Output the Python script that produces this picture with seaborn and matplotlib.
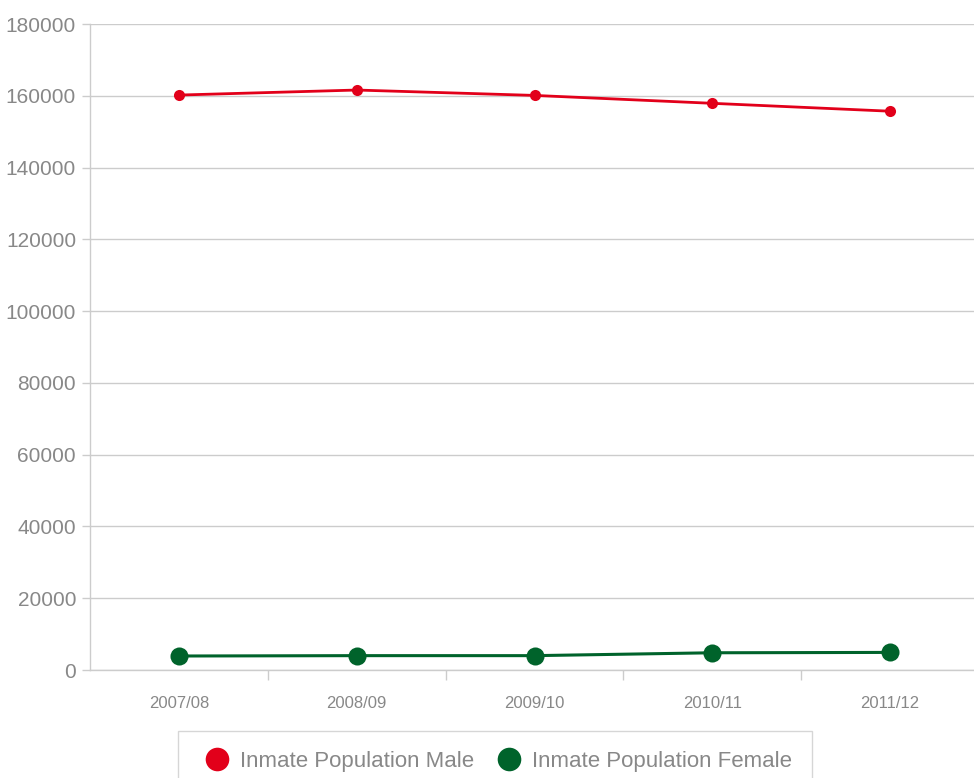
import matplotlib
matplotlib.use("Agg")
import matplotlib.pyplot as plt
from matplotlib.lines import Line2D
import pandas as pd
import seaborn as sns

years = ["2007/08", "2008/09", "2009/10", "2010/11", "2011/12"]
male = [160200, 161600, 160100, 157900, 155700]
female = [3900, 4000, 4000, 4800, 4900]
y_ticks = [0, 20000, 40000, 60000, 80000, 100000, 120000, 140000, 160000, 180000]

MALE_COLOR = "#e2001a"
FEMALE_COLOR = "#00632b"
GRID = "#cccccc"
TEXT = "#888888"

sns.set_theme(style="white")
plt.rcParams["font.family"] = ["Liberation Sans", "DejaVu Sans"]

df = pd.DataFrame({"year": years, "male": male, "female": female})

fig = plt.figure(figsize=(9.74, 7.78), dpi=100)
ax = fig.add_axes([90 / 974, 1 - 670 / 778, (979 - 90) / 974, (670 - 24) / 778])

sns.lineplot(data=df, x="year", y="male", ax=ax, color=MALE_COLOR, lw=2,
             marker="o", markersize=8, markeredgewidth=0, sort=False)
sns.lineplot(data=df, x="year", y="female", ax=ax, color=FEMALE_COLOR, lw=2.2,
             marker="o", markersize=13, markeredgewidth=0, sort=False)

ax.set_xlim(-0.5, len(years) - 0.5)
ax.set_ylim(0, 180000)
ax.set_yticks(y_ticks)
ax.set_yticklabels([str(v) for v in y_ticks])
ax.yaxis.grid(True, color=GRID, lw=1)
ax.set_axisbelow(True)

# category labels on minor ticks, tick marks at category boundaries
ax.set_xticks([i + 0.5 for i in range(len(years) - 1)])
ax.set_xticklabels([])
ax.set_xticks(range(len(years)), minor=True)
ax.set_xticklabels(years, minor=True)
ax.tick_params(axis="x", which="major", direction="out", length=7, width=1, color=GRID, bottom=True)
ax.tick_params(axis="x", which="minor", length=0, pad=19, labelsize=12, labelcolor=TEXT)
ax.tick_params(axis="y", direction="out", length=6, width=1, color=GRID, left=True,
               labelsize=15, labelcolor=TEXT, pad=4)

ax.set_xlabel("")
ax.set_ylabel("")
for side in ["top", "right"]:
    ax.spines[side].set_visible(False)
for side in ["left", "bottom"]:
    ax.spines[side].set_color(GRID)
    ax.spines[side].set_linewidth(1)

handles = [
    Line2D([], [], ls="", marker="o", markersize=17, markeredgewidth=0, color=MALE_COLOR),
    Line2D([], [], ls="", marker="o", markersize=17, markeredgewidth=0, color=FEMALE_COLOR),
]
leg = fig.legend(handles, ["Inmate Population Male", "Inmate Population Female"],
                 loc="upper center", bbox_to_anchor=(495 / 974, 1 - 731 / 778),
                 borderaxespad=0, ncol=2, frameon=True, fancybox=False,
                 handlelength=1.7, handletextpad=0.15, columnspacing=0.75, borderpad=0.9,
                 prop={"family": ["Liberation Sans", "DejaVu Sans"], "size": 16})
leg.get_frame().set_edgecolor(GRID)
leg.get_frame().set_linewidth(1)
for t in leg.get_texts():
    t.set_color(TEXT)

fig.savefig("out.png", dpi=100, facecolor="white")
